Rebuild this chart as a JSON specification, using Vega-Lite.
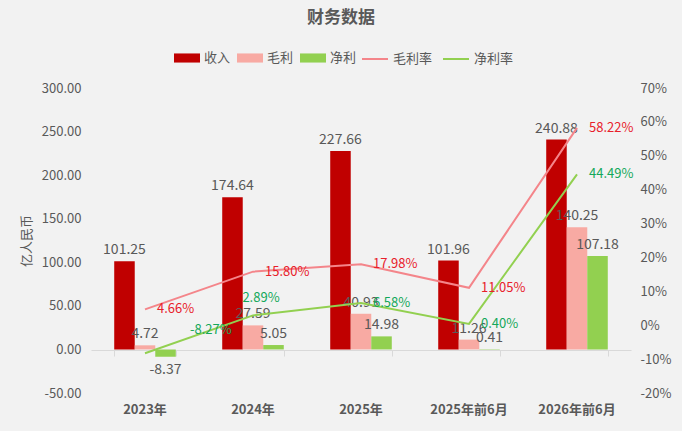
{
  "$schema": "https://vega.github.io/schema/vega-lite/v6.json",
  "width": 540,
  "height": 305,
  "autosize": {"type": "none"},
  "padding": {"left": 91, "top": 88, "right": 51, "bottom": 38},
  "background": "#f2f2f2",
  "title": {
    "text": "财务数据",
    "fontSize": 17,
    "fontWeight": "bold",
    "color": "#595959",
    "anchor": "middle",
    "frame": "group",
    "dx": -20,
    "offset": 18
  },
  "config": {
    "font": "Noto Sans CJK SC",
    "view": {"stroke": null},
    "axis": {"labelFont": "Noto Sans CJK SC", "titleFont": "Noto Sans CJK SC"},
    "legend": {"labelFont": "Noto Sans CJK SC"}
  },
  "datasets": {
    "bars": [
      {"period": "2023年", "metric": "收入", "value": 101.25},
      {"period": "2023年", "metric": "毛利", "value": 4.72},
      {"period": "2023年", "metric": "净利", "value": -8.37},
      {"period": "2024年", "metric": "收入", "value": 174.64},
      {"period": "2024年", "metric": "毛利", "value": 27.59},
      {"period": "2024年", "metric": "净利", "value": 5.05},
      {"period": "2025年", "metric": "收入", "value": 227.66},
      {"period": "2025年", "metric": "毛利", "value": 40.93},
      {"period": "2025年", "metric": "净利", "value": 14.98},
      {"period": "2025年前6月", "metric": "收入", "value": 101.96},
      {"period": "2025年前6月", "metric": "毛利", "value": 11.26},
      {"period": "2025年前6月", "metric": "净利", "value": 0.41},
      {"period": "2026年前6月", "metric": "收入", "value": 240.88},
      {"period": "2026年前6月", "metric": "毛利", "value": 140.25},
      {"period": "2026年前6月", "metric": "净利", "value": 107.18}
    ],
    "rates": [
      {"period": "2023年", "metric": "毛利率", "rate": 0.0466},
      {"period": "2024年", "metric": "毛利率", "rate": 0.158},
      {"period": "2025年", "metric": "毛利率", "rate": 0.1798},
      {"period": "2025年前6月", "metric": "毛利率", "rate": 0.1105},
      {"period": "2026年前6月", "metric": "毛利率", "rate": 0.5822},
      {"period": "2023年", "metric": "净利率", "rate": -0.0827},
      {"period": "2024年", "metric": "净利率", "rate": 0.0289},
      {"period": "2025年", "metric": "净利率", "rate": 0.0658},
      {"period": "2025年前6月", "metric": "净利率", "rate": 0.004},
      {"period": "2026年前6月", "metric": "净利率", "rate": 0.4449}
    ]
  },
  "encoding": {
    "x": {
      "field": "period",
      "type": "nominal",
      "scale": {
        "domain": ["2023年", "2024年", "2025年", "2025年前6月", "2026年前6月"],
        "paddingInner": 0.43,
        "paddingOuter": 0.215
      }
    }
  },
  "layer": [
    {
      "data": {"name": "bars"},
      "encoding": {
        "xOffset": {"field": "metric", "type": "nominal", "scale": {"domain": ["收入", "毛利", "净利"], "paddingInner": 0}},
        "y": {
          "field": "value",
          "type": "quantitative",
          "scale": {"domain": [-50, 300], "nice": false, "zero": false},
          "axis": {
            "title": "亿人民币",
            "titleFontSize": 13,
            "titleFontWeight": "normal",
            "titleColor": "#595959",
            "titlePadding": 8,
            "values": [-50, 0, 50, 100, 150, 200, 250, 300],
            "format": ".2f",
            "labelExpr": "replace(datum.label, '\u2212', '-')",
            "labelFontSize": 13,
            "labelColor": "#595959",
            "labelPadding": 10,
            "domain": false,
            "ticks": false,
            "grid": false
          }
        }
      },
      "layer": [
        {
          "mark": {"type": "bar"},
          "encoding": {
            "x": {
              "field": "period",
              "type": "nominal",
              "axis": {
                "orient": "bottom",
                "title": null,
                "labelAngle": 0,
                "labelFontSize": 13,
                "labelFontWeight": "bold",
                "labelColor": "#595959",
                "labelPadding": 10,
                "domain": false,
                "ticks": false,
                "grid": false
              }
            },
            "fill": {
              "field": "metric",
              "type": "nominal",
              "scale": {"domain": ["收入", "毛利", "净利"], "range": ["#c00000", "#f8aaa3", "#92d050"]},
              "legend": {
                "title": null,
                "orient": "none",
                "direction": "horizontal",
                "legendX": 83,
                "legendY": -43,
                "symbolType": "M-1,-0.35H1V0.35H-1Z",
                "symbolSize": 676,
                "symbolStrokeWidth": 0,
                "labelFontSize": 13,
                "labelColor": "#595959",
                "labelOffset": 4,
                "columnPadding": 6
              }
            }
          }
        },
        {
          "transform": [{"filter": "datum.value >= 0"}],
          "mark": {"type": "text", "baseline": "bottom", "dy": -4, "fontSize": 14, "color": "#595959"},
          "encoding": {"text": {"field": "value", "type": "quantitative", "format": ".2f"}}
        },
        {
          "transform": [{"filter": "datum.value < 0"}],
          "mark": {
            "type": "text",
            "baseline": "top",
            "dy": 6,
            "fontSize": 14,
            "color": "#595959",
            "text": {"expr": "replace(format(datum.value, '.2f'), '\u2212', '-')"}
          }
        }
      ]
    },
    {
      "data": {"name": "rates"},
      "encoding": {
        "y": {
          "field": "rate",
          "type": "quantitative",
          "scale": {"domain": [-0.2, 0.7], "nice": false, "zero": false},
          "axis": {
            "orient": "right",
            "title": null,
            "values": [-0.2, -0.1, 0, 0.1, 0.2, 0.3, 0.4, 0.5, 0.6, 0.7],
            "format": ".0%",
            "labelExpr": "replace(datum.label, '\u2212', '-')",
            "labelFontSize": 13,
            "labelColor": "#595959",
            "labelPadding": 9,
            "domain": false,
            "ticks": false,
            "grid": false
          }
        }
      },
      "layer": [
        {
          "mark": {"type": "line", "strokeWidth": 2},
          "encoding": {
            "x": {
              "field": "period",
              "type": "nominal",
              "axis": {
                "orient": "bottom",
                "title": null,
                "offset": -43,
                "labels": false,
                "domain": true,
                "domainColor": "#d9d9d9",
                "ticks": true,
                "tickBand": "extent",
                "tickColor": "#d9d9d9",
                "tickSize": 6,
                "grid": false
              }
            },
            "stroke": {
              "field": "metric",
              "type": "nominal",
              "scale": {"domain": ["毛利率", "净利率"], "range": ["#f4858a", "#92d050"]},
              "legend": {
                "title": null,
                "orient": "none",
                "direction": "horizontal",
                "legendX": 270,
                "legendY": -43,
                "symbolType": "stroke",
                "symbolSize": 676,
                "symbolStrokeWidth": 2,
                "labelFontSize": 13,
                "labelColor": "#595959",
                "labelOffset": 4,
                "columnPadding": 6
              }
            }
          }
        },
        {
          "transform": [{"filter": "datum.metric == '毛利率'"}],
          "mark": {"type": "text", "align": "left", "baseline": "middle", "dx": 12, "fontSize": 13, "color": "#e8202a"},
          "encoding": {"text": {"field": "rate", "type": "quantitative", "format": ".2%"}}
        },
        {
          "transform": [{"filter": "datum.metric == '净利率' && datum.period != '2023年' && datum.period != '2024年'"}],
          "mark": {"type": "text", "align": "left", "baseline": "middle", "dx": 12, "fontSize": 13, "color": "#14a85a"},
          "encoding": {"text": {"field": "rate", "type": "quantitative", "format": ".2%"}}
        },
        {
          "transform": [{"filter": "datum.metric == '净利率' && datum.period == '2024年'"}],
          "mark": {"type": "text", "align": "center", "baseline": "middle", "dx": 8, "dy": -17, "fontSize": 13, "color": "#14a85a"},
          "encoding": {"text": {"field": "rate", "type": "quantitative", "format": ".2%"}}
        },
        {
          "transform": [{"filter": "datum.metric == '净利率' && datum.period == '2023年'"}],
          "mark": {
            "type": "text",
            "align": "left",
            "baseline": "middle",
            "dx": 45,
            "dy": -23,
            "fontSize": 13,
            "color": "#14a85a",
            "text": {"expr": "replace(format(datum.rate, '.2%'), '\u2212', '-')"}
          }
        }
      ]
    }
  ],
  "resolve": {"scale": {"y": "independent"}, "axis": {"x": "independent"}}
}
